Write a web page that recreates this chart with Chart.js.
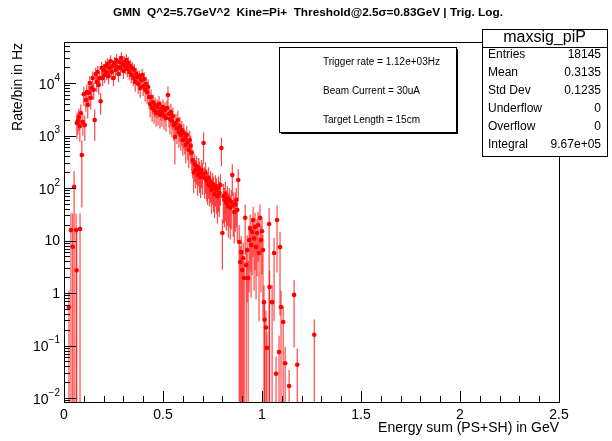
<!DOCTYPE html>
<html>
<head>
<meta charset="utf-8">
<script src="https://cdn.jsdelivr.net/npm/chart.js@4.4.1/dist/chart.umd.min.js"></script>
<style>
  html, body { margin: 0; padding: 0; background: #fff; }
  #wrap { width: 612px; height: 441px; }
</style>
</head>
<body>
<div id="wrap"><canvas id="histChart" width="612" height="441"></canvas></div>
<script>
// histogram maxsig_piP, bin centres in GeV, rate per bin in Hz, relative error of each bin
const energy = [
  0.025, 0.035, 0.044, 0.051, 0.061, 0.064, 0.065, 0.070, 0.075, 0.080, 0.081, 0.085, 0.090, 0.095,
  0.100, 0.105, 0.110, 0.115, 0.120, 0.125, 0.130, 0.135, 0.140, 0.145, 0.150, 0.155, 0.160, 0.165,
  0.170, 0.175, 0.180, 0.185, 0.190, 0.195, 0.200, 0.205, 0.210, 0.215, 0.220, 0.225, 0.230, 0.235,
  0.240, 0.245, 0.250, 0.255, 0.260, 0.265, 0.270, 0.275, 0.280, 0.285, 0.290, 0.295, 0.300, 0.305,
  0.310, 0.315, 0.320, 0.325, 0.330, 0.335, 0.340, 0.345, 0.350, 0.355, 0.360, 0.365, 0.370, 0.375,
  0.380, 0.385, 0.390, 0.395, 0.400, 0.405, 0.410, 0.415, 0.420, 0.425, 0.430, 0.435, 0.440, 0.445,
  0.450, 0.455, 0.460, 0.465, 0.470, 0.475, 0.480, 0.485, 0.490, 0.495, 0.500, 0.505, 0.510, 0.515,
  0.520, 0.525, 0.530, 0.535, 0.540, 0.545, 0.550, 0.555, 0.560, 0.565, 0.570, 0.575, 0.580, 0.585,
  0.590, 0.595, 0.600, 0.605, 0.610, 0.615, 0.620, 0.625, 0.630, 0.635, 0.640, 0.645, 0.650, 0.655,
  0.660, 0.665, 0.670, 0.675, 0.680, 0.685, 0.690, 0.695, 0.700, 0.705, 0.710, 0.715, 0.720, 0.725,
  0.730, 0.735, 0.740, 0.745, 0.750, 0.755, 0.760, 0.765, 0.770, 0.775, 0.780, 0.785, 0.790, 0.795,
  0.800, 0.805, 0.810, 0.815, 0.820, 0.825, 0.830, 0.835, 0.840, 0.845, 0.850, 0.855, 0.860, 0.865,
  0.870, 0.875, 0.880, 0.885, 0.890, 0.895, 0.900, 0.905, 0.910, 0.915, 0.920, 0.925, 0.930, 0.935,
  0.940, 0.945, 0.950, 0.955, 0.960, 0.965, 0.970, 0.975, 0.980, 0.985, 0.990, 0.995, 1.000, 1.005,
  1.010, 1.013, 1.020, 1.025, 1.036, 1.038, 1.051, 1.061, 1.071, 1.076, 1.086, 1.091, 1.096, 1.107,
  1.117, 1.137, 1.162, 1.178, 1.264
];
const rate = [
  0.54, 15.8, 7.6, 106, 15.8, 2.7, 1730, 1900, 2250, 1500, 16.6, 2680, 425, 1800,
  6100, 1580, 4750, 6700, 3800, 6450, 10000, 5200, 8000, 12400, 7400, 1970, 14800, 10500,
  16200, 9200, 12400, 4500, 19300, 12400, 17700, 14200, 21000, 16200, 23000, 13500, 19300, 26000,
  16200, 21000, 12400, 24000, 17700, 27400, 20200, 14800, 25000, 19300, 29900, 23000, 17000, 25000,
  21000, 27400, 18500, 24000, 16200, 21000, 14200, 19300, 12400, 17700, 10500, 14800, 13000, 9600,
  13500, 8000, 11400, 14200, 8700, 11900, 7400, 9600, 6700, 8400, 5400, 4000, 5400, 3330,
  4300, 3060, 3800, 2680, 3500, 2800, 4000, 2460, 3200, 2680, 3500, 2350, 3060, 2150,
  3330, 5900, 2570, 2060, 2800, 1900, 2350, 1580, 935, 1730, 1380, 1970, 1170, 1500,
  1020, 1270, 820, 1120, 880, 660, 1020, 750, 530, 820, 640, 470, 340, 200,
  285, 220, 260, 177, 240, 200, 162, 220, 185, 720, 155, 193, 142, 120,
  155, 110, 130, 92, 120, 100, 77, 110, 92, 70, 100, 80, 114, 580,
  13.9, 70, 59, 77, 52, 64, 45, 59, 42, 54, 177, 47, 35, 49,
  59, 38, 142, 9.4, 3.9, 6.0, 2.74, 4.6, 1.93, 27, 3.4, 6.6, 1.93, 10.2,
  17, 8.2, 14.5, 24.5, 11, 18, 7.5, 13.9, 19.7, 5.8, 27, 10.2, 15, 6.6,
  0.67, 0.31, 0.22, 0.09, 20.6, 1.3, 0.67, 5.8, 0.029, 24.5, 0.075, 7.5, 0.54, 0.28,
  0.046, 0.017, 0.92, 0.043, 0.16
];
const relErr = [
  1.05, 1.1, 3.3, 1.0, 1.05, 5.0, 0.5, 0.45, 0.45, 0.5, 1.0, 0.45, 0.9, 0.45,
  0.4, 0.5, 0.4, 0.4, 0.45, 0.4, 0.35, 0.4, 0.35, 0.35, 0.35, 0.6, 0.3, 0.35,
  0.3, 0.35, 0.3, 0.45, 0.3, 0.3, 0.3, 0.3, 0.3, 0.3, 0.3, 0.3, 0.3, 0.3,
  0.3, 0.3, 0.3, 0.3, 0.3, 0.3, 0.3, 0.3, 0.3, 0.3, 0.3, 0.3, 0.3, 0.3,
  0.3, 0.3, 0.3, 0.3, 0.3, 0.3, 0.3, 0.3, 0.3, 0.3, 0.35, 0.3, 0.3, 0.35,
  0.3, 0.35, 0.35, 0.3, 0.35, 0.35, 0.4, 0.35, 0.4, 0.4, 0.4, 0.45, 0.4, 0.45,
  0.4, 0.45, 0.4, 0.45, 0.4, 0.45, 0.4, 0.45, 0.4, 0.45, 0.4, 0.45, 0.4, 0.45,
  0.4, 0.45, 0.45, 0.5, 0.45, 0.5, 0.45, 0.5, 0.7, 0.5, 0.5, 0.5, 0.5, 0.5,
  0.5, 0.5, 0.5, 0.5, 0.5, 0.55, 0.5, 0.55, 0.55, 0.5, 0.55, 0.55, 0.55, 0.6,
  0.55, 0.55, 0.55, 0.6, 0.55, 0.6, 0.6, 0.55, 0.6, 0.6, 0.6, 0.6, 0.6, 0.6,
  0.6, 0.6, 0.6, 0.65, 0.6, 0.65, 0.65, 0.6, 0.65, 0.7, 0.65, 0.65, 0.6, 0.55,
  0.8, 0.7, 0.7, 0.7, 0.7, 0.7, 0.75, 0.7, 0.75, 0.7, 0.6, 0.75, 0.75, 0.7,
  0.7, 0.75, 0.6, 1.1, 1.0, 1.0, 1.1, 1.0, 1.1, 0.8, 1.0, 0.9, 1.1, 0.9,
  0.85, 0.9, 0.85, 0.8, 0.9, 0.85, 0.9, 0.85, 0.8, 0.95, 0.8, 0.9, 0.85, 0.95,
  1.1, 1.05, 1.1, 1.0, 1.0, 1.05, 1.1, 0.95, 1.1, 0.9, 1.05, 0.95, 1.05, 1.0,
  1.05, 1.0, 0.9, 1.05, 0.95
];

const xTicks = [0, 0.5, 1, 1.5, 2, 2.5];
const xTickLabels = ["0", "0.5", "1", "1.5", "2", "2.5"];
const yDecades = [-2, -1, 0, 1, 2, 3, 4];

const titleText = "GMN  Q^2=5.7GeV^2  Kine=Pi+  Threshold@2.5\u03c3=0.83GeV | Trig. Log.";
const xTitle = "Energy sum (PS+SH) in GeV";
const yTitle = "Rate/bin in Hz";
const infoLines = ["Trigger rate = 1.12e+03Hz", "Beam Current = 30uA", "Target Length = 15cm"];
const statName = "maxsig_piP";
const statLabels = ["Entries", "Mean", "Std Dev", "Underflow", "Overflow", "Integral"];
const statValues = ["18145", "0.3135", "0.1235", "0", "0", "9.67e+05"];

const FONT = '"Liberation Sans", Arial, sans-serif';

// error bars under the markers
const errorBars = {
  id: "errorBars",
  beforeDatasetsDraw(chart) {
    const c = chart.ctx, xs = chart.scales.x, ys = chart.scales.y, area = chart.chartArea;
    c.save();
    c.beginPath();
    c.rect(area.left, area.top, area.right - area.left, area.bottom - area.top);
    c.clip();
    c.lineWidth = 1.2;
    c.strokeStyle = "rgba(255,0,0,0.72)";
    for (let i = 0; i < energy.length; i++) {
      const v = rate[i], err = v * relErr[i];
      const px = xs.getPixelForValue(energy[i]);
      const top = ys.getPixelForValue(v + err);
      const bot = v - err > ys.min ? ys.getPixelForValue(v - err) : area.bottom;
      c.beginPath();
      c.moveTo(px, top);
      c.lineTo(px, bot);
      c.stroke();
    }
    c.restore();
  }
};

// ROOT-like frame, ticks, titles and pave texts
const rootStyle = {
  id: "rootStyle",
  afterDraw(chart) {
    const c = chart.ctx, xs = chart.scales.x, ys = chart.scales.y, a = chart.chartArea;
    c.save();
    c.strokeStyle = "#000";
    c.fillStyle = "#000";
    c.lineWidth = 1;

    // frame
    c.strokeRect(Math.round(a.left) + 0.5, Math.round(a.top) + 0.5,
      Math.round(a.right - a.left), Math.round(a.bottom - a.top));

    // x ticks
    for (let k = 0; k <= 25; k++) {
      const px = Math.round(xs.getPixelForValue(k / 10)) + 0.5;
      const len = k % 5 === 0 ? 11 : 6;
      c.beginPath();
      c.moveTo(px, a.bottom);
      c.lineTo(px, a.bottom - len);
      c.stroke();
    }
    // y ticks (log)
    for (let d = -3; d <= 5; d++) {
      for (let m = 1; m <= 9; m++) {
        const v = m * Math.pow(10, d);
        if (v < ys.min || v > ys.max) continue;
        const py = Math.round(ys.getPixelForValue(v)) + 0.5;
        const len = m === 1 ? 12 : 6;
        c.beginPath();
        c.moveTo(a.left, py);
        c.lineTo(a.left + len, py);
        c.stroke();
      }
    }

    // x labels
    c.font = "14px " + FONT;
    c.textAlign = "center";
    c.textBaseline = "top";
    xTicks.forEach((v, i) => {
      c.fillText(xTickLabels[i], xs.getPixelForValue(v), a.bottom + 6);
    });

    // y labels
    yDecades.forEach(d => {
      const py = ys.getPixelForValue(Math.pow(10, d));
      c.textBaseline = "middle";
      c.textAlign = "right";
      if (d === 0 || d === 1) {
        c.font = "14px " + FONT;
        c.fillText(d === 0 ? "1" : "10", 60, py + 1);
      } else {
        const exp = String(d).replace("-", "\u2212");
        c.font = "10px " + FONT;
        const w = c.measureText(exp).width;
        c.fillText(exp, 60, py - 5);
        c.font = "14px " + FONT;
        c.fillText("10", 60 - w, py + 2);
      }
    });

    // axis titles
    c.font = "14px " + FONT;
    c.textAlign = "right";
    c.textBaseline = "middle";
    c.fillText(xTitle, a.right, 428);
    c.save();
    c.translate(18, a.top + 1);
    c.rotate(-Math.PI / 2);
    c.fillText(yTitle, 0, 0);
    c.restore();

    // title
    c.font = "bold 11.8px " + FONT;
    c.textAlign = "center";
    c.fillText(titleText, 308, 13);

    // info pave
    const bx = 279, by = 47, bw = 177, bh = 85;
    c.fillRect(bx + 2, by + 2, bw, bh);
    c.fillStyle = "#fff";
    c.fillRect(bx, by, bw, bh);
    c.strokeRect(bx + 0.5, by + 0.5, bw, bh);
    c.fillStyle = "#000";
    c.font = "10px " + FONT;
    c.textAlign = "left";
    infoLines.forEach((t, i) => c.fillText(t, 323, 62 + i * 29));

    // stats box
    const sx = 482, sy = 29, sw = 125, sh = 127;
    c.fillStyle = "#fff";
    c.fillRect(sx, sy, sw, sh);
    c.strokeRect(sx + 0.5, sy + 0.5, sw, sh);
    c.beginPath();
    c.moveTo(sx, sy + 18.5);
    c.lineTo(sx + sw, sy + 18.5);
    c.stroke();
    c.fillStyle = "#000";
    c.font = "16px " + FONT;
    c.textAlign = "center";
    c.fillText(statName, sx + sw / 2, sy + 9);
    c.font = "12px " + FONT;
    statLabels.forEach((t, i) => {
      const ty = 54.5 + i * 18;
      c.textAlign = "left";
      c.fillText(t, 488, ty);
      c.textAlign = "right";
      c.fillText(statValues[i], 601, ty);
    });
    c.restore();
  }
};

const ctx = document.getElementById("histChart").getContext("2d");
const chart = new Chart(ctx, {
  type: "scatter",
  data: {
    datasets: [
      {
        label: statName,
        data: energy.map((e, i) => ({ x: e, y: rate[i] })),
        backgroundColor: "#ff0000",
        borderColor: "#ff0000",
        borderWidth: 0,
        pointRadius: 2.3,
        pointHoverRadius: 2.3,
      },
    ],
  },
  options: {
    responsive: false,
    animation: false,
    events: [],
    layout: { padding: { left: 64, right: 53, top: 42, bottom: 39 } },
    plugins: { legend: { display: false }, tooltip: { enabled: false } },
    scales: {
      x: { type: "linear", min: 0, max: 2.5, display: false },
      y: { type: "logarithmic", min: 0.0084, max: 60400, display: false },
    },
  },
  plugins: [errorBars, rootStyle],
});
</script>
</body>
</html>
